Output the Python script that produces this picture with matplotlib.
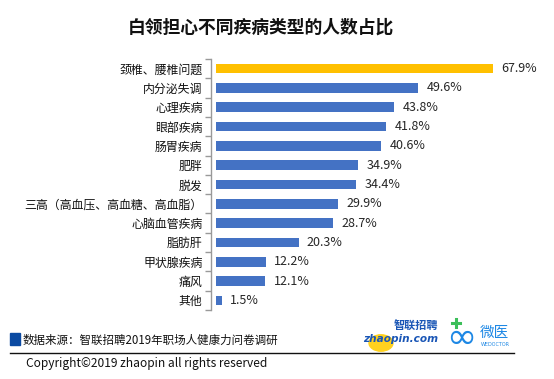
import matplotlib
matplotlib.use("Agg")
import matplotlib.pyplot as plt
from matplotlib.patches import Rectangle, Circle
import numpy as np

plt.rcParams['font.family'] = ['Noto Sans CJK SC', 'DejaVu Sans']

categories = ["颈椎、腰椎问题", "内分泌失调", "心理疾病", "眼部疾病", "肠胃疾病", "肥胖", "脱发",
              "三高（高血压、高血糖、高血脂）", "心脑血管疾病", "脂肪肝", "甲状腺疾病", "痛风", "其他"]
values = [67.9, 49.6, 43.8, 41.8, 40.6, 34.9, 34.4, 29.9, 28.7, 20.3, 12.2, 12.1, 1.5]
value_labels = ["67.9%", "49.6%", "43.8%", "41.8%", "40.6%", "34.9%", "34.4%", "29.9%",
                "28.7%", "20.3%", "12.2%", "12.1%", "1.5%"]
title = "白领担心不同疾病类型的人数占比"
source = "数据来源：智联招聘2019年职场人健康力问卷调研"
copyright_text = "Copyright©2019 zhaopin all rights reserved"

W, H = 554, 379
fig = plt.figure(figsize=(W / 100, H / 100), dpi=100)
fig.patch.set_facecolor('white')

ax = fig.add_axes([211 / W, 1 - 310 / H, (542 - 211) / W, (310 - 59) / H])
n = len(categories)
y = np.arange(n)
colors = ['#FFC000'] + ['#4472C4'] * (n - 1)
ax.barh(y, values, height=0.5, color=colors, zorder=2)
ax.set_ylim(n - 0.5, -0.5)
ax.set_xlim(-1.2, 80)
ax.set_yticks(np.arange(-0.5, n, 1), minor=True)
ax.set_yticks(y)
ax.set_yticklabels(categories)
ax.tick_params(axis='y', which='major', length=0, pad=6, labelsize=8.6, labelcolor='#111111')
ax.tick_params(axis='y', which='minor', length=4, color='#999999', width=1)
ax.set_xticks([])
for s in ['top', 'right', 'bottom']:
    ax.spines[s].set_visible(False)
ax.spines['left'].set_color('#999999')
ax.spines['left'].set_linewidth(1)
ax.spines['left'].set_position(('data', -1.2))

for yi, v, lab in zip(y, values, value_labels):
    ax.annotate(lab, (v, yi), xytext=(6, 0), textcoords='offset points',
                va='center', ha='left', fontsize=9, color='#262626')

fig.text(261 / W, 1 - 28 / H, title, ha='center', va='center', fontsize=12.8,
         fontweight='bold', color='#111111')

# footer
fig.patches.append(Rectangle((10 / W, 1 - 345 / H), 10 / W, 12 / H,
                             transform=fig.transFigure, color='#0b4aa2'))
fig.text(23 / W, 1 - 340 / H, source, ha='left', va='center', fontsize=8.3, color='#111111')
fig.add_artist(plt.Line2D([10 / W, 514 / W], [1 - 352.5 / H, 1 - 352.5 / H],
                          transform=fig.transFigure, color='#111111', lw=1))
fig.text(26 / W, 1 - 364 / H, copyright_text, ha='left', va='center', fontsize=8.6, color='#111111')

# logos (approximation)
fig.patches.append(Circle((381 / W, 1 - 343 / H), 12 / W, transform=fig.transFigure,
                          color='#FFD21F', zorder=1))
fig.text(363 / W, 1 - 339 / H, "zhaopin.com", ha='left', va='center', fontsize=7.6,
         fontweight='bold', style='italic', color='#1a56b6', family='DejaVu Sans', zorder=3)
fig.text(394 / W, 1 - 326 / H, "智联招聘", ha='left', va='center', fontsize=8,
         fontweight='bold', style='italic', color='#1a56b6', zorder=3)
fig.text(461 / W, 1 - 338 / H, "∞", ha='center', va='center', fontsize=26,
         color='#1e88e5', family='DejaVu Sans')
# green cross of the logo
fig.add_artist(plt.Line2D([452 / W, 460 / W], [1 - 323 / H, 1 - 323 / H],
                          transform=fig.transFigure, color='#3cbf5a', lw=2.2))
fig.add_artist(plt.Line2D([456 / W, 456 / W], [1 - 319 / H, 1 - 327 / H],
                          transform=fig.transFigure, color='#3cbf5a', lw=2.2))
fig.text(480 / W, 1 - 333 / H, "微医", ha='left', va='center', fontsize=10.5, color='#1e88e5')
fig.text(481 / W, 1 - 345 / H, "WEDOCTOR", ha='left', va='center', fontsize=3.5, color='#1e88e5',
         family='DejaVu Sans')

fig.savefig("out.png", dpi=100, facecolor='white')
